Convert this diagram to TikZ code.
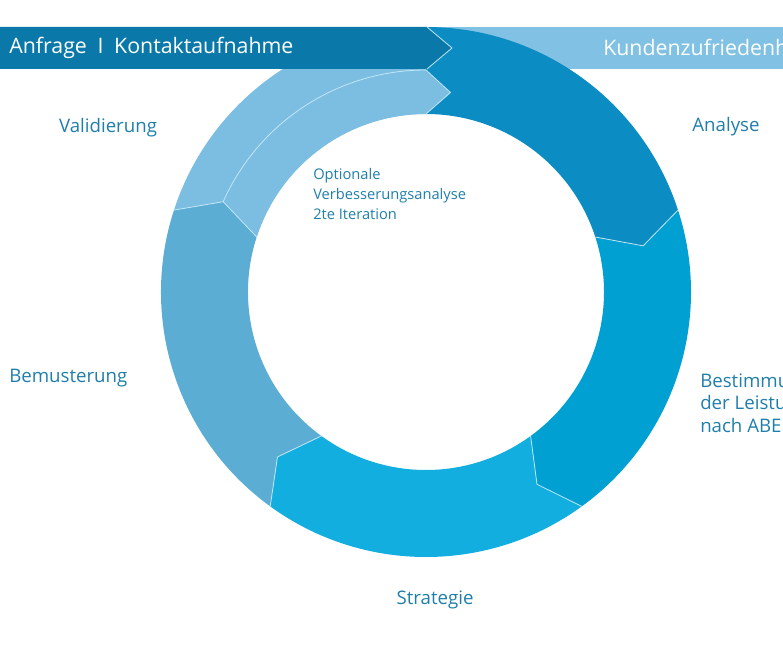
\documentclass[tikz,border=0pt]{standalone}
\usepackage{fontspec}
\setmainfont{Open Sans}
\usepackage{tikz}
\definecolor{bannerdark}{HTML}{0A78A8}
\definecolor{bannerlight}{HTML}{80C1E4}
\definecolor{segA}{HTML}{0B8DC3}
\definecolor{segB}{HTML}{00A0D2}
\definecolor{segC}{HTML}{12AEE0}
\definecolor{segD}{HTML}{5BADD3}
\definecolor{segE}{HTML}{7CBDE2}
\definecolor{seamblue}{HTML}{C2E6F7}
\definecolor{textblue}{HTML}{1F7EAB}

\begin{document}
\begin{tikzpicture}[x=0.75pt,y=0.75pt,
  phase/.style={text=textblue,font=\fontsize{14}{17}\selectfont,inner sep=0pt},
  bannertext/.style={text=white,font=\fontsize{16}{19}\selectfont,inner sep=0pt,anchor=west},
  seamline/.style={draw=seamblue,line width=0.6pt,line join=round}]
\useasboundingbox (-426,-358) rectangle (357,292);
\clip (-426,-358) rectangle (357,292);
\def\R{265} \def\r{178} \def\m{222}
\fill[bannerlight] (0,223) rectangle (360,265);
\foreach \a/\b/\s/\t/\c in {90/18/0/6/segA,18/-54/6/6/segB,-54/-126/6/6/segC,-126/-198/6/6/segD,-198/-270/6/0/segE}
  \fill[\c] (\a:\R) arc[start angle=\a,end angle=\b,radius=\R] -- ({\b-\t}:\m) -- (\b:\r)
    arc[start angle=\b,end angle=\a,radius=\r] -- ({\a-\s}:\m) -- cycle;
\fill[segE] (156:\m) arc[start angle=156,end angle=90,radius=\m] -- (83:201) -- (90:\r)
  arc[start angle=90,end angle=162,radius=\r] -- cycle;
\foreach \b in {18,-54,-126,162}
  \draw[seamline] (\b:\R) -- ({\b-6}:\m) -- (\b:\r);
\draw[seamline] (156:\m) arc[start angle=156,end angle=90,radius=\m] -- (83:201) -- (90:\r);
\fill[bannerdark] (-430,223) -- (1,223) -- (26,244) -- (1,265) -- (-430,265) -- cycle;
\draw[seamline] (1,223) -- (26,244) -- (1,265);
\node[bannertext] (anfrage) at (-417,244) {Anfrage\enspace I\enspace Kontaktaufnahme};
\node[bannertext] (kunden) at (177,245) {Kundenzufriedenheit};
\node[phase] (valid) at (-318,164) {Validierung};
\node[phase] (analyse) at (300,165) {Analyse};
\node[phase,anchor=west] (bemust) at (-417,-86) {Bemusterung};
\node[phase] (strat) at (9,-308) {Strategie};
\node[phase,anchor=west,align=left] (bestimm) at (274,-111) {Bestimmung\\der Leistung\\nach ABE};
\node[phase,anchor=west,align=left,font=\fontsize{11}{15}\selectfont] (opt) at (-113,98)
  {Optionale\\Verbesserungsanalyse\\2te Iteration};
\end{tikzpicture}
\end{document}
